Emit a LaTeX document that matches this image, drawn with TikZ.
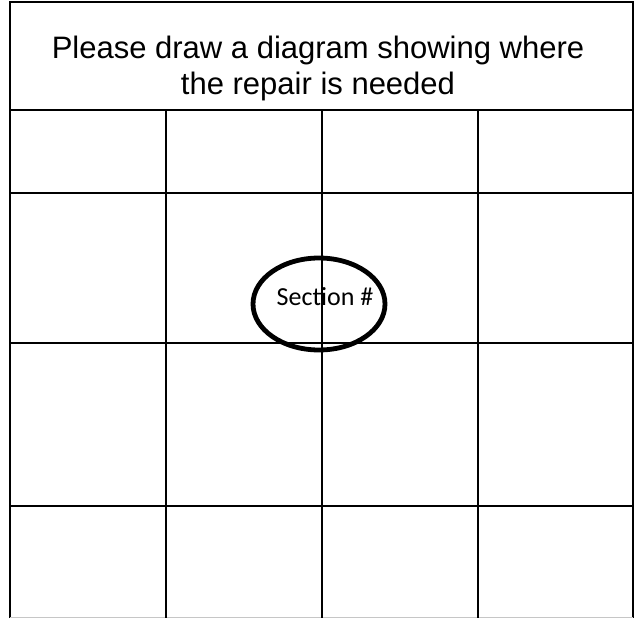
\documentclass[tikz,border=0pt]{standalone}
\usepackage{fontspec}
\setmainfont{Liberation Sans}
\newfontfamily\calib{Carlito}
\begin{document}
\begin{tikzpicture}[x=1pt,y=-1pt,
  gridline/.style={line width=2pt,black},
  frameline/.style={line width=2.2pt,black},
  title/.style={font=\fontsize{31}{36}\selectfont,anchor=base,inner sep=0pt},
  seclabel/.style={font=\calib\fontsize{26}{30}\selectfont,anchor=base,inner sep=0pt}]
\useasboundingbox (0,0) rectangle (634,618);
\fill[white] (0,0) rectangle (634,618);
% coordinates
\coordinate (tl) at (10,2);
\coordinate (tr) at (633,2);
\coordinate (bl) at (10,618);
\coordinate (br) at (633,618);
% frame
\draw[frameline] (bl) -- (tl) -- (tr) -- (br);
\draw[gray!45,line width=1pt] (10,617) -- (633,617);
% header separator and rows
\foreach \y in {110,193,343,506}{
  \draw[gridline] (10,\y) -- (633,\y);
}
\foreach \x in {166,322,478}{
  \draw[gridline] (\x,110) -- (\x,618);
}
% title
\node[title] (t1) at (318,59) {Please draw a diagram showing where};
\node[title] (t2) at (318,94) {the repair is needed};
% ellipse
\draw[line width=4.8pt] (319,304) ellipse [x radius=66, y radius=46];
\node[seclabel] (sec) at (325,305) {Section \#};
\end{tikzpicture}
\end{document}
